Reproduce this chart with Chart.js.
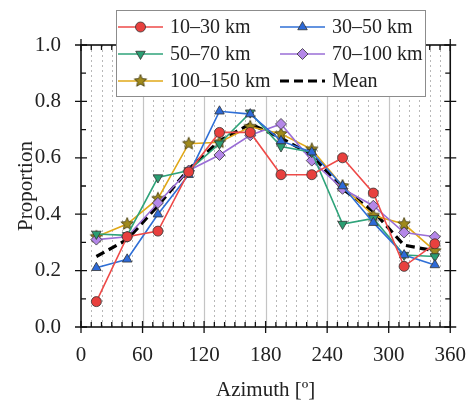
<!DOCTYPE html>
<html>
<head>
<meta charset="utf-8">
<script src="https://cdn.jsdelivr.net/npm/chart.js@4"></script>
<style>
  html, body { margin: 0; padding: 0; background: #fff; }
  #wrap { width: 474px; height: 407px; }
</style>
</head>
<body>
<div id="wrap"><canvas id="azChart" width="474" height="407"></canvas></div>
<script>
// Data
const azimuth = [15, 45, 75, 105, 135, 165, 195, 225, 255, 285, 315, 345];
const r10_30 = [0.09, 0.32, 0.34, 0.55, 0.69, 0.69, 0.54, 0.54, 0.60, 0.475, 0.215, 0.295];
const r30_50 = [0.21, 0.24, 0.40, 0.54, 0.765, 0.755, 0.66, 0.62, 0.50, 0.37, 0.255, 0.22];
const r50_70 = [0.33, 0.325, 0.53, 0.555, 0.65, 0.76, 0.64, 0.62, 0.365, 0.385, 0.255, 0.25];
const r70_100 = [0.31, 0.32, 0.44, 0.555, 0.61, 0.68, 0.72, 0.59, 0.49, 0.43, 0.335, 0.32];
const r100_150 = [0.32, 0.365, 0.455, 0.65, 0.655, 0.71, 0.685, 0.63, 0.50, 0.395, 0.365, 0.27];
const meanVals = [0.25, 0.31, 0.43, 0.56, 0.66, 0.72, 0.67, 0.61, 0.49, 0.41, 0.29, 0.27];
const xTicks = [0, 60, 120, 180, 240, 300, 360];
const yTicks = [0.0, 0.2, 0.4, 0.6, 0.8, 1.0];

const FONT = '"Liberation Serif", "Times New Roman", serif';

function toPoints(vals) {
    return azimuth.map((a, i) => ({ x: a, y: vals[i] }));
}

// star marker as a small canvas
function makeStar(fill, stroke, r) {
    const c = document.createElement('canvas');
    const s = Math.ceil(r * 2 + 3);
    c.width = s; c.height = s;
    const g = c.getContext('2d');
    g.beginPath();
    for (let i = 0; i < 10; i++) {
        const rad = i % 2 === 0 ? r : r * 0.45;
        const ang = -Math.PI / 2 + i * Math.PI / 5;
        const px = s / 2 + rad * Math.cos(ang), py = s / 2 + rad * Math.sin(ang);
        if (i === 0) g.moveTo(px, py); else g.lineTo(px, py);
    }
    g.closePath();
    g.fillStyle = fill; g.fill();
    g.lineWidth = 0.9; g.strokeStyle = stroke; g.stroke();
    return c;
}
const starImg = makeStar('#a08a1c', '#4a3f10', 6.5);

function series(label, vals, color, fill, style, rotation, radius) {
    return {
        label: label,
        data: toPoints(vals),
        borderColor: color,
        backgroundColor: fill,
        borderWidth: 1.6,
        pointStyle: style,
        pointRotation: rotation || 0,
        pointRadius: radius,
        pointBorderColor: '#333',
        pointBorderWidth: 0.8,
        pointBackgroundColor: fill,
        tension: 0
    };
}

const datasets = [
    series('10\u201330 km', r10_30, '#ee4a48', '#e8403e', 'circle', 0, 5),
    series('30\u201350 km', r30_50, '#2f6fd6', '#2d6ad8', 'triangle', 0, 5.5),
    series('50\u201370 km', r50_70, '#2fa37a', '#2a9e72', 'triangle', 180, 5.5),
    series('70\u2013100 km', r70_100, '#9a6ed6', '#b487e8', 'rectRot', 0, 5.5),
    series('100\u2013150 km', r100_150, '#e0a818', '#a08a1c', starImg, 0, 6),
    {
        label: 'Mean',
        data: toPoints(meanVals),
        borderColor: '#000',
        borderWidth: 3.2,
        borderDash: [9, 5],
        pointRadius: 0,
        tension: 0
    }
];

// grid, frame, ticks and legend drawn on top of the chart through its scales
const framePlugin = {
    id: 'frame',
    beforeDatasetsDraw(chart) {
        const { ctx, chartArea: a, scales: { x } } = chart;
        ctx.save();
        for (let v = 10; v < 360; v += 10) {
            const px = Math.round(x.getPixelForValue(v)) + 0.5;
            ctx.beginPath();
            if (v % 60 === 0) {
                ctx.setLineDash([]);
                ctx.strokeStyle = '#c4c4c4';
                ctx.lineWidth = 1.2;
            } else {
                ctx.setLineDash([2, 3]);
                ctx.strokeStyle = '#b8b8b8';
                ctx.lineWidth = 1;
            }
            ctx.moveTo(px, a.top);
            ctx.lineTo(px, a.bottom);
            ctx.stroke();
        }
        ctx.restore();
    },
    afterDraw(chart) {
        const { ctx, chartArea: a, scales: { x, y } } = chart;
        ctx.save();
        ctx.strokeStyle = '#111';
        ctx.lineWidth = 1.6;
        ctx.setLineDash([]);
        ctx.strokeRect(a.left, a.top, a.right - a.left, a.bottom - a.top);
        ctx.lineWidth = 1.3;
        ctx.beginPath();
        // x ticks, bottom and top
        for (let v = 0; v <= 360; v += 10) {
            const px = x.getPixelForValue(v);
            const major = v % 60 === 0;
            ctx.moveTo(px, a.bottom + (major ? 6 : 0));
            ctx.lineTo(px, a.bottom - (major ? 6 : 5));
            ctx.moveTo(px, a.top - (major ? 6 : 0));
            ctx.lineTo(px, a.top + (major ? 6 : 5));
        }
        // y ticks, left and right
        for (let i = 0; i <= 10; i++) {
            const v = i / 10;
            const py = y.getPixelForValue(v);
            const major = i % 2 === 0;
            ctx.moveTo(a.left - (major ? 6 : 0), py);
            ctx.lineTo(a.left + (major ? 6 : 5), py);
            ctx.moveTo(a.right + (major ? 6 : 0), py);
            ctx.lineTo(a.right - (major ? 6 : 5), py);
        }
        ctx.stroke();

        // legend box
        const bx = 116, by = 10, bw = 309, bh = 86;
        ctx.fillStyle = '#fff';
        ctx.fillRect(bx, by, bw, bh);
        ctx.strokeStyle = '#8c8c8c';
        ctx.lineWidth = 1;
        ctx.strokeRect(bx + 0.5, by + 0.5, bw, bh);
        ctx.font = '20px ' + FONT;
        ctx.textBaseline = 'middle';
        ctx.textAlign = 'left';
        const cols = [118, 280];
        const rows = [27, 54, 81];
        chart.data.datasets.forEach((ds, i) => {
            const lx = cols[i % 2], ly = rows[Math.floor(i / 2)];
            ctx.save();
            ctx.strokeStyle = ds.borderColor;
            ctx.lineWidth = ds.borderWidth;
            ctx.setLineDash(ds.borderDash || []);
            ctx.beginPath();
            ctx.moveTo(lx, ly);
            ctx.lineTo(lx + 45, ly);
            ctx.stroke();
            ctx.setLineDash([]);
            if (ds.pointRadius > 0) {
                ctx.fillStyle = ds.pointBackgroundColor;
                ctx.strokeStyle = ds.pointBorderColor;
                ctx.lineWidth = ds.pointBorderWidth;
                Chart.helpers.drawPoint(ctx, {
                    pointStyle: ds.pointStyle,
                    rotation: ds.pointRotation,
                    radius: ds.pointRadius,
                    borderWidth: ds.pointBorderWidth
                }, lx + 22.5, ly);
            }
            ctx.restore();
            ctx.fillStyle = '#222';
            ctx.fillText(ds.label, lx + 52, ly + 1);
        });
        ctx.restore();
    }
};

new Chart(document.getElementById('azChart'), {
    type: 'line',
    data: { datasets: datasets },
    options: {
        responsive: false,
        animation: false,
        layout: { padding: { left: 10, top: 45, right: 17, bottom: 0 } },
        plugins: {
            legend: { display: false },
            tooltip: { enabled: false }
        },
        scales: {
            x: {
                type: 'linear',
                min: 0,
                max: 360,
                afterBuildTicks: s => { s.ticks = xTicks.map(v => ({ value: v })); },
                grid: { display: false },
                border: { display: false },
                ticks: {
                    color: '#222',
                    font: { family: FONT, size: 21 },
                    padding: 8,
                    maxRotation: 0
                },
                title: {
                    display: true,
                    text: 'Azimuth [\u00ba]',
                    color: '#222',
                    font: { family: FONT, size: 21 },
                    padding: { top: 8 }
                },
                afterFit: s => { s.height = 80; }
            },
            y: {
                min: 0,
                max: 1,
                afterBuildTicks: s => { s.ticks = yTicks.map(v => ({ value: v })); },
                grid: { display: false },
                border: { display: false },
                ticks: {
                    color: '#222',
                    font: { family: FONT, size: 21 },
                    padding: 12,
                    callback: v => v.toFixed(1)
                },
                title: {
                    display: true,
                    text: 'Proportion',
                    color: '#222',
                    font: { family: FONT, size: 21 },
                    padding: { bottom: 0 }
                },
                afterFit: s => { s.width = 71; }
            }
        }
    },
    plugins: [framePlugin]
});
</script>
</body>
</html>
